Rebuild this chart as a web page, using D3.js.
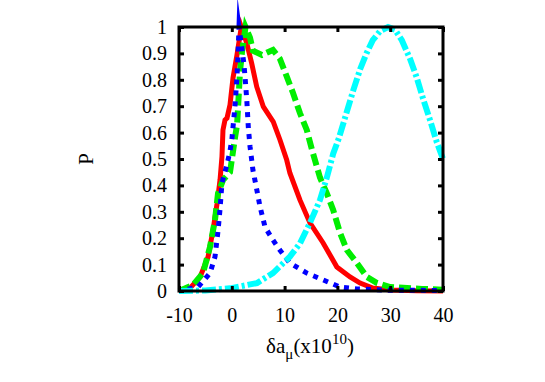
<!DOCTYPE html>
<html>
<head>
<meta charset="utf-8">
<script src="https://cdn.jsdelivr.net/npm/d3@7"></script>
<style>
  html, body { margin: 0; padding: 0; background: #fff; }
  svg { display: block; }
  text { font-family: "Liberation Serif", "Times New Roman", Times, serif; fill: #000; }
</style>
</head>
<body>
<svg id="chart" width="545" height="382"></svg>
<script>
// ---- data ----
const xTicks = [-10, 0, 10, 20, 30, 40];
const yTicks = [0, 0.1, 0.2, 0.3, 0.4, 0.5, 0.6, 0.7, 0.8, 0.9, 1];

const redX = [-10, -7.9, -6, -4.5, -3.56, -2.8, -2.23, -1.86, -1.67, -1.29, -0.91, -0.34, 0.23, 0.98, 1.8, 2.82, 3.77, 4.72, 5.97, 7.86, 9.13, 10.4, 11.0, 12.9, 14.8, 17.3, 19.9, 22.4, 24.3, 26.7, 30, 35, 40];
const redY = [0, 0.011, 0.053, 0.129, 0.23, 0.33, 0.42, 0.51, 0.61, 0.648, 0.655, 0.705, 0.807, 0.894, 1.0, 0.94, 0.862, 0.774, 0.698, 0.641, 0.572, 0.496, 0.447, 0.345, 0.258, 0.182, 0.091, 0.053, 0.03, 0.011, 0.004, 0.001, 0];

const greenX = [-10, -7.35, -5.45, -4.13, -3.18, -2.61, -1.67, -0.34, 0.6, 1.0, 1.2, 1.55, 1.93, 2.6, 3.45, 4.0, 5.7, 7.8, 9.1, 10.45, 11.6, 12.9, 14.2, 15.2, 16.7, 18.0, 19.2, 20.5, 21.8, 23.7, 25.6, 27.5, 30, 33.2, 36, 40];
const greenY = [0, 0.023, 0.068, 0.167, 0.27, 0.37, 0.42, 0.45, 0.58, 0.63, 0.70, 0.83, 0.905, 1.0, 0.96, 0.91, 0.894, 0.913, 0.88, 0.81, 0.75, 0.674, 0.61, 0.534, 0.43, 0.37, 0.307, 0.22, 0.155, 0.106, 0.053, 0.03, 0.015, 0.011, 0.008, 0.005];

const blueX = [-10, -6.4, -4.13, -3.18, -2.6, -2.23, -1.86, -0.9, -0.34, 0.04, 0.6, 0.98, 1.17, 1.36, 2.3, 2.55, 2.85, 3.13, 3.45, 3.77, 4.0, 4.77, 5.34, 6.3, 7.8, 9.1, 11.0, 14.2, 17.3, 20.5, 23.7, 26.7, 30, 40];
const blueY = [0, 0.015, 0.068, 0.13, 0.23, 0.31, 0.41, 0.48, 0.53, 0.58, 0.70, 0.81, 0.89, 1.0, 0.86, 0.80, 0.72, 0.62, 0.547, 0.496, 0.458, 0.38, 0.32, 0.242, 0.193, 0.155, 0.106, 0.068, 0.042, 0.015, 0.008, 0.005, 0.003, 0.002];
const bluePeakIndex = 13;

const cyanX = [-10, -5, -0.34, 4.77, 7.8, 11.0, 12.9, 14.8, 16.7, 18.0, 19.2, 20.3, 21.5, 23.0, 24.3, 25.5, 26.7, 28.1, 29.6, 30.9, 32.2, 33.75, 35.0, 36.2, 37.5, 38.8, 40];
const cyanY = [0, 0.002, 0.01, 0.03, 0.068, 0.13, 0.18, 0.258, 0.345, 0.43, 0.52, 0.58, 0.66, 0.76, 0.84, 0.90, 0.95, 0.985, 1.0, 0.99, 0.95, 0.88, 0.81, 0.73, 0.65, 0.565, 0.5];

const seriesNames = ["red", "green", "blue", "cyan"];
const seriesX = [redX, greenX, blueX, cyanX];
const seriesY = [redY, greenY, blueY, cyanY];

// ---- styles ----
const styles = {
  red:   { color: "#ff0000", width: 5, dash: null },
  green: { color: "#00ee00", width: 6, dash: "12,5" },
  blue:  { color: "#0000ff", width: 5, dash: "5,6" },
  cyan:  { color: "#00ffff", width: 6, dash: "14,3,3,3" }
};

const svg = d3.select("#chart");
const L = 179, R = 443, T = 27, B = 291;

const x = d3.scaleLinear().domain([-10, 40]).range([L, R]);
const y = d3.scaleLinear().domain([0, 1]).range([B, T]);

const fmtY = d => (d === 0 ? "0" : d === 1 ? "1" : d3.format(".1f")(d));
const fmtX = d => String(d);

// curves
const line = d3.line().x(d => x(d[0])).y(d => y(d[1]));
seriesNames.forEach((name, i) => {
  const pts = seriesX[i].map((xv, j) => [xv, seriesY[i][j]]);
  const s = styles[name];
  const p = svg.append("path")
    .datum(pts)
    .attr("d", line)
    .attr("fill", "none")
    .attr("stroke", s.color)
    .attr("stroke-width", s.width)
    .attr("stroke-linejoin", "miter")
    .attr("stroke-miterlimit", 20)
    .attr("stroke-dasharray", s.dash);
  if (name === "blue") {
    // align a dot with the peak vertex so the miter spike shows
    const tmp = svg.append("path").attr("d", line(pts.slice(0, bluePeakIndex + 1)));
    const lp = tmp.node().getTotalLength();
    tmp.remove();
    const period = 11;
    let off = (2.5 - lp) % period;
    if (off < 0) off += period;
    p.attr("stroke-dashoffset", off);
  }
});

// axes (inward ticks)
const axW = 3;
function styleAxis(g, showText) {
  g.select(".domain").remove();
  g.selectAll(".tick line").attr("stroke", "#000").attr("stroke-width", 3);
  if (!showText) g.selectAll(".tick text").remove();
  else g.selectAll(".tick text").attr("font-size", 20).attr("font-family", "Liberation Serif, Times New Roman, serif");
}

svg.append("g").attr("transform", `translate(${L},0)`)
  .call(d3.axisLeft(y).tickValues(yTicks).tickFormat(fmtY).tickSize(-5).tickPadding(12))
  .call(g => styleAxis(g, true));
svg.append("g").attr("transform", `translate(${R},0)`)
  .call(d3.axisRight(y).tickValues(yTicks).tickSize(-5))
  .call(g => styleAxis(g, false));
svg.append("g").attr("transform", `translate(0,${B})`)
  .call(d3.axisBottom(x).tickValues(xTicks).tickFormat(fmtX).tickSize(-5).tickPadding(17))
  .call(g => styleAxis(g, true));
svg.append("g").attr("transform", `translate(0,${T})`)
  .call(d3.axisTop(x).tickValues(xTicks).tickSize(-5))
  .call(g => styleAxis(g, false));

// frame
svg.append("rect")
  .attr("x", L).attr("y", T)
  .attr("width", R - L).attr("height", B - T)
  .attr("fill", "none").attr("stroke", "#000").attr("stroke-width", axW);

// axis labels
svg.append("text")
  .attr("transform", `translate(93,159) rotate(-90)`)
  .attr("text-anchor", "middle")
  .attr("font-size", 21)
  .text("P");

const xl = svg.append("text")
  .attr("x", 310).attr("y", 353)
  .attr("text-anchor", "middle")
  .attr("font-size", 21);
xl.append("tspan").text("δa");
xl.append("tspan").attr("font-size", 15).attr("dy", 6).text("μ");
xl.append("tspan").attr("dy", -6).text("(x10");
xl.append("tspan").attr("font-size", 15).attr("dy", -9).text("10");
xl.append("tspan").attr("dy", 9).text(")");
</script>
</body>
</html>
